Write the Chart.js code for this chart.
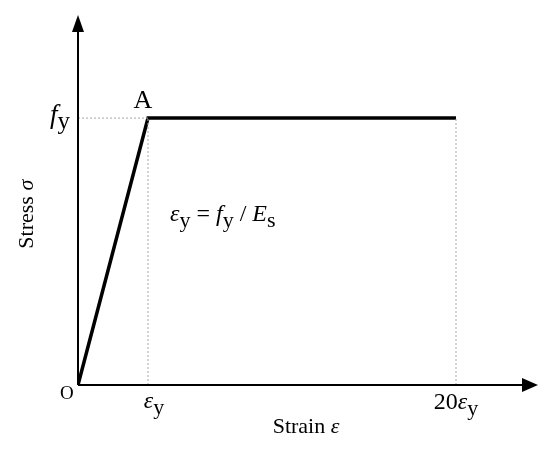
<!DOCTYPE html>
<html>
<head>
<meta charset="utf-8">
<script src="https://cdn.jsdelivr.net/npm/chart.js@4"></script>
<style>
  body { margin: 0; background: #fff; }
  #wrap { width: 550px; height: 450px; }
</style>
</head>
<body>
<div id="wrap"><canvas id="ssChart" width="550" height="450"></canvas></div>
<script>
// schematic positions on the strain axis (not to scale): O, εy, 20εy
const strainPos = [0, 1, 5.4];
const strainLabels = ["O", "εy", "20εy"];
const stressVals = [0, 1, 1];
const stressLabels = ["fy"];

const SERIF = "'Liberation Serif', 'Times New Roman', serif";

// draw text made of pieces: [text, italic, sub]
function drawPieces(ctx, pieces, x, y, size, align) {
    let widths = pieces.map(p => {
        ctx.font = (p[1] ? "italic " : "") + (p[2] ? size - 2 : size) + "px " + SERIF;
        return ctx.measureText(p[0]).width;
    });
    let total = widths.reduce((a, b) => a + b, 0);
    let cx = align === "right" ? x - total : align === "center" ? x - total / 2 : x;
    pieces.forEach((p, i) => {
        ctx.font = (p[1] ? "italic " : "") + (p[2] ? size - 2 : size) + "px " + SERIF;
        ctx.fillText(p[0], cx, p[2] ? y + 6 : y);
        cx += widths[i];
    });
}

const diagramPlugin = {
    id: "diagram",
    afterDatasetsDraw(chart) {
        const ctx = chart.ctx;
        const xs = chart.scales.x, ys = chart.scales.y;
        const x0 = xs.getPixelForValue(0), y0 = ys.getPixelForValue(0);
        const area = chart.chartArea;
        ctx.save();
        // axes
        ctx.strokeStyle = "#000";
        ctx.lineWidth = 2;
        ctx.beginPath();
        ctx.moveTo(x0, y0);
        ctx.lineTo(area.right, y0);
        ctx.moveTo(x0, y0);
        ctx.lineTo(x0, area.top);
        ctx.stroke();
        // arrow heads
        ctx.fillStyle = "#000";
        ctx.beginPath();
        ctx.moveTo(area.right + 12, y0);
        ctx.lineTo(area.right - 4, y0 - 7);
        ctx.lineTo(area.right - 4, y0 + 7);
        ctx.closePath();
        ctx.fill();
        ctx.beginPath();
        ctx.moveTo(x0, area.top - 15);
        ctx.lineTo(x0 - 6, area.top + 2);
        ctx.lineTo(x0 + 6, area.top + 2);
        ctx.closePath();
        ctx.fill();

        ctx.textBaseline = "alphabetic";
        ctx.fillStyle = "#000";
        const yTop = ys.getPixelForValue(stressVals[1]);
        // tick labels on strain axis
        ctx.font = "19px " + SERIF;
        ctx.textAlign = "left";
        ctx.fillText(strainLabels[0], x0 - 18, y0 + 14);
        drawPieces(ctx, [["ε", true, false], ["y", false, true]], xs.getPixelForValue(strainPos[1]) + 6, y0 + 23, 24, "center");
        drawPieces(ctx, [["20", false, false], ["ε", true, false], ["y", false, true]], xs.getPixelForValue(strainPos[2]), y0 + 24, 24, "center");
        // tick label on stress axis
        drawPieces(ctx, [["f", true, false], ["y", false, true]], x0 - 8, yTop + 5, 27, "right");
        // point A
        ctx.font = "26px " + SERIF;
        ctx.textAlign = "center";
        ctx.fillText("A", xs.getPixelForValue(strainPos[1]) - 5, yTop - 10);
        // formula
        ctx.textAlign = "left";
        drawPieces(ctx, [["ε", true, false], ["y", false, true], [" = ", false, false], ["f", true, false], ["y", false, true], [" / ", false, false], ["E", true, false], ["s", false, true]], 170, 221, 24, "left");
        // axis titles
        drawPieces(ctx, [["Strain ", false, false], ["ε", true, false]], (x0 + area.right) / 2 + 4, 433, 22, "center");
        ctx.translate(33, ys.getPixelForValue(0.64));
        ctx.rotate(-Math.PI / 2);
        drawPieces(ctx, [["Stress ", false, false], ["σ", true, false]], 0, 0, 22, "center");
        ctx.restore();
    }
};

const guide = { borderColor: "#a8a8a8", borderWidth: 1, borderDash: [2, 2], pointRadius: 0, fill: false };

new Chart(document.getElementById("ssChart"), {
    type: "line",
    data: {
        datasets: [
            Object.assign({ data: [{ x: strainPos[0], y: stressVals[1] }, { x: strainPos[1], y: stressVals[1] }] }, guide),
            Object.assign({ data: [{ x: strainPos[1], y: stressVals[0] }, { x: strainPos[1], y: stressVals[1] }] }, guide),
            Object.assign({ data: [{ x: strainPos[2], y: stressVals[0] }, { x: strainPos[2], y: stressVals[2] }] }, guide),
            {
                data: strainPos.map((x, i) => ({ x: x, y: stressVals[i] })),
                borderColor: "#000",
                borderWidth: 3.5,
                pointRadius: 0,
                borderJoinStyle: "miter",
                tension: 0,
                fill: false
            }
        ]
    },
    options: {
        responsive: false,
        animation: false,
        layout: { padding: { left: 78, right: 24, top: 30, bottom: 65 } },
        plugins: { legend: { display: false }, tooltip: { enabled: false } },
        scales: {
            x: { type: "linear", min: 0, max: 6.4, display: false },
            y: { type: "linear", min: 0, max: 1.33, display: false }
        }
    },
    plugins: [diagramPlugin]
});
</script>
</body>
</html>
